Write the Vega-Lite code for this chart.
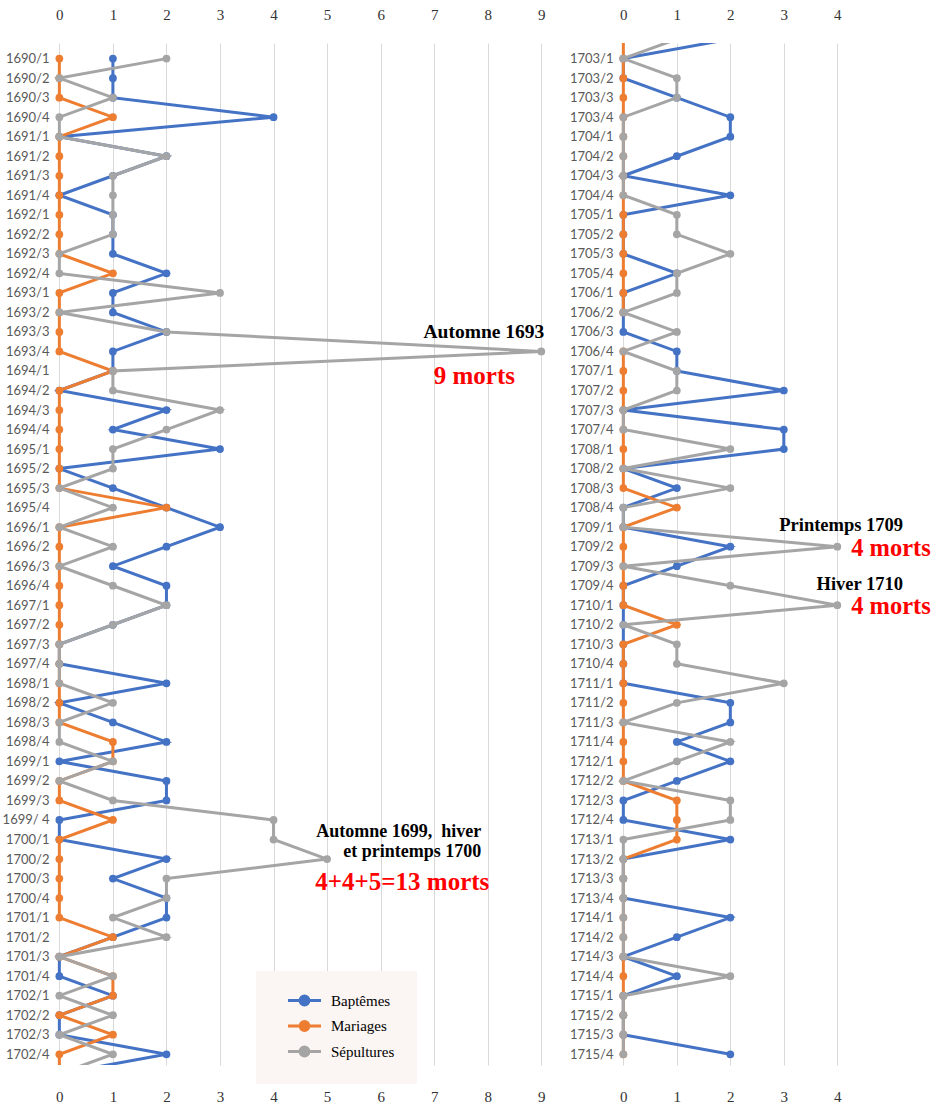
{
  "$schema": "https://vega.github.io/schema/vega-lite/v6.json",
  "background": "white",
  "padding": {"left": 2, "top": 7, "right": 3, "bottom": 5},
  "spacing": 17,
  "config": {
    "view": {"stroke": null},
    "axisX": {"grid": false, "ticks": false, "domain": false, "labelFont": "Liberation Serif", "labelFontSize": 15, "labelColor": "#333333", "title": null, "format": "d"},
    "axisY": {"grid": false, "ticks": false, "domain": false, "labelFont": "Lato", "labelFontSize": 13, "labelColor": "#595959", "title": null, "labelPadding": 5, "labelOverlap": false, "tickCount": 52, "tickMinStep": 1}
  },
  "datasets": {
    "L": [
      {"i":0,"q":"1690/1","Baptêmes":1,"Mariages":0,"Sépultures":2},
      {"i":1,"q":"1690/2","Baptêmes":1,"Mariages":0,"Sépultures":0},
      {"i":2,"q":"1690/3","Baptêmes":1,"Mariages":0,"Sépultures":1},
      {"i":3,"q":"1690/4","Baptêmes":4,"Mariages":1,"Sépultures":0},
      {"i":4,"q":"1691/1","Baptêmes":0,"Mariages":0,"Sépultures":0},
      {"i":5,"q":"1691/2","Baptêmes":2,"Mariages":0,"Sépultures":2},
      {"i":6,"q":"1691/3","Baptêmes":1,"Mariages":0,"Sépultures":1},
      {"i":7,"q":"1691/4","Baptêmes":0,"Mariages":0,"Sépultures":1},
      {"i":8,"q":"1692/1","Baptêmes":1,"Mariages":0,"Sépultures":1},
      {"i":9,"q":"1692/2","Baptêmes":1,"Mariages":0,"Sépultures":1},
      {"i":10,"q":"1692/3","Baptêmes":1,"Mariages":0,"Sépultures":0},
      {"i":11,"q":"1692/4","Baptêmes":2,"Mariages":1,"Sépultures":0},
      {"i":12,"q":"1693/1","Baptêmes":1,"Mariages":0,"Sépultures":3},
      {"i":13,"q":"1693/2","Baptêmes":1,"Mariages":0,"Sépultures":0},
      {"i":14,"q":"1693/3","Baptêmes":2,"Mariages":0,"Sépultures":2},
      {"i":15,"q":"1693/4","Baptêmes":1,"Mariages":0,"Sépultures":9},
      {"i":16,"q":"1694/1","Baptêmes":1,"Mariages":1,"Sépultures":1},
      {"i":17,"q":"1694/2","Baptêmes":0,"Mariages":0,"Sépultures":1},
      {"i":18,"q":"1694/3","Baptêmes":2,"Mariages":0,"Sépultures":3},
      {"i":19,"q":"1694/4","Baptêmes":1,"Mariages":0,"Sépultures":2},
      {"i":20,"q":"1695/1","Baptêmes":3,"Mariages":0,"Sépultures":1},
      {"i":21,"q":"1695/2","Baptêmes":0,"Mariages":0,"Sépultures":1},
      {"i":22,"q":"1695/3","Baptêmes":1,"Mariages":0,"Sépultures":0},
      {"i":23,"q":"1695/4","Baptêmes":2,"Mariages":2,"Sépultures":1},
      {"i":24,"q":"1696/1","Baptêmes":3,"Mariages":0,"Sépultures":0},
      {"i":25,"q":"1696/2","Baptêmes":2,"Mariages":0,"Sépultures":1},
      {"i":26,"q":"1696/3","Baptêmes":1,"Mariages":0,"Sépultures":0},
      {"i":27,"q":"1696/4","Baptêmes":2,"Mariages":0,"Sépultures":1},
      {"i":28,"q":"1697/1","Baptêmes":2,"Mariages":0,"Sépultures":2},
      {"i":29,"q":"1697/2","Baptêmes":1,"Mariages":0,"Sépultures":1},
      {"i":30,"q":"1697/3","Baptêmes":0,"Mariages":0,"Sépultures":0},
      {"i":31,"q":"1697/4","Baptêmes":0,"Mariages":0,"Sépultures":0},
      {"i":32,"q":"1698/1","Baptêmes":2,"Mariages":0,"Sépultures":0},
      {"i":33,"q":"1698/2","Baptêmes":0,"Mariages":0,"Sépultures":1},
      {"i":34,"q":"1698/3","Baptêmes":1,"Mariages":0,"Sépultures":0},
      {"i":35,"q":"1698/4","Baptêmes":2,"Mariages":1,"Sépultures":0},
      {"i":36,"q":"1699/1","Baptêmes":0,"Mariages":1,"Sépultures":1},
      {"i":37,"q":"1699/2","Baptêmes":2,"Mariages":0,"Sépultures":0},
      {"i":38,"q":"1699/3","Baptêmes":2,"Mariages":0,"Sépultures":1},
      {"i":39,"q":"1699/ 4","Baptêmes":0,"Mariages":1,"Sépultures":4},
      {"i":40,"q":"1700/1","Baptêmes":0,"Mariages":0,"Sépultures":4},
      {"i":41,"q":"1700/2","Baptêmes":2,"Mariages":0,"Sépultures":5},
      {"i":42,"q":"1700/3","Baptêmes":1,"Mariages":0,"Sépultures":2},
      {"i":43,"q":"1700/4","Baptêmes":2,"Mariages":0,"Sépultures":2},
      {"i":44,"q":"1701/1","Baptêmes":2,"Mariages":0,"Sépultures":1},
      {"i":45,"q":"1701/2","Baptêmes":1,"Mariages":1,"Sépultures":2},
      {"i":46,"q":"1701/3","Baptêmes":0,"Mariages":0,"Sépultures":0},
      {"i":47,"q":"1701/4","Baptêmes":0,"Mariages":1,"Sépultures":1},
      {"i":48,"q":"1702/1","Baptêmes":1,"Mariages":1,"Sépultures":0},
      {"i":49,"q":"1702/2","Baptêmes":0,"Mariages":0,"Sépultures":1},
      {"i":50,"q":"1702/3","Baptêmes":0,"Mariages":1,"Sépultures":0},
      {"i":51,"q":"1702/4","Baptêmes":2,"Mariages":0,"Sépultures":1},
      {"i":52,"q":"1703/1","Baptêmes":0,"Mariages":0,"Sépultures":0}
    ],
    "R": [
      {"i":-1,"q":"1702/4","Baptêmes":2,"Mariages":0,"Sépultures":1},
      {"i":0,"q":"1703/1","Baptêmes":0,"Mariages":0,"Sépultures":0},
      {"i":1,"q":"1703/2","Baptêmes":0,"Mariages":0,"Sépultures":1},
      {"i":2,"q":"1703/3","Baptêmes":1,"Mariages":0,"Sépultures":1},
      {"i":3,"q":"1703/4","Baptêmes":2,"Mariages":0,"Sépultures":0},
      {"i":4,"q":"1704/1","Baptêmes":2,"Mariages":0,"Sépultures":0},
      {"i":5,"q":"1704/2","Baptêmes":1,"Mariages":0,"Sépultures":0},
      {"i":6,"q":"1704/3","Baptêmes":0,"Mariages":0,"Sépultures":0},
      {"i":7,"q":"1704/4","Baptêmes":2,"Mariages":0,"Sépultures":0},
      {"i":8,"q":"1705/1","Baptêmes":0,"Mariages":0,"Sépultures":1},
      {"i":9,"q":"1705/2","Baptêmes":0,"Mariages":0,"Sépultures":1},
      {"i":10,"q":"1705/3","Baptêmes":0,"Mariages":0,"Sépultures":2},
      {"i":11,"q":"1705/4","Baptêmes":1,"Mariages":0,"Sépultures":1},
      {"i":12,"q":"1706/1","Baptêmes":0,"Mariages":0,"Sépultures":1},
      {"i":13,"q":"1706/2","Baptêmes":0,"Mariages":0,"Sépultures":0},
      {"i":14,"q":"1706/3","Baptêmes":0,"Mariages":null,"Sépultures":1},
      {"i":15,"q":"1706/4","Baptêmes":1,"Mariages":0,"Sépultures":0},
      {"i":16,"q":"1707/1","Baptêmes":1,"Mariages":0,"Sépultures":1},
      {"i":17,"q":"1707/2","Baptêmes":3,"Mariages":0,"Sépultures":1},
      {"i":18,"q":"1707/3","Baptêmes":0,"Mariages":0,"Sépultures":0},
      {"i":19,"q":"1707/4","Baptêmes":3,"Mariages":0,"Sépultures":0},
      {"i":20,"q":"1708/1","Baptêmes":3,"Mariages":0,"Sépultures":2},
      {"i":21,"q":"1708/2","Baptêmes":0,"Mariages":0,"Sépultures":0},
      {"i":22,"q":"1708/3","Baptêmes":1,"Mariages":0,"Sépultures":2},
      {"i":23,"q":"1708/4","Baptêmes":0,"Mariages":1,"Sépultures":0},
      {"i":24,"q":"1709/1","Baptêmes":0,"Mariages":0,"Sépultures":0},
      {"i":25,"q":"1709/2","Baptêmes":2,"Mariages":0,"Sépultures":4},
      {"i":26,"q":"1709/3","Baptêmes":1,"Mariages":0,"Sépultures":0},
      {"i":27,"q":"1709/4","Baptêmes":0,"Mariages":0,"Sépultures":2},
      {"i":28,"q":"1710/1","Baptêmes":0,"Mariages":0,"Sépultures":4},
      {"i":29,"q":"1710/2","Baptêmes":0,"Mariages":1,"Sépultures":0},
      {"i":30,"q":"1710/3","Baptêmes":0,"Mariages":0,"Sépultures":1},
      {"i":31,"q":"1710/4","Baptêmes":0,"Mariages":0,"Sépultures":1},
      {"i":32,"q":"1711/1","Baptêmes":0,"Mariages":0,"Sépultures":3},
      {"i":33,"q":"1711/2","Baptêmes":2,"Mariages":0,"Sépultures":1},
      {"i":34,"q":"1711/3","Baptêmes":2,"Mariages":0,"Sépultures":0},
      {"i":35,"q":"1711/4","Baptêmes":1,"Mariages":0,"Sépultures":2},
      {"i":36,"q":"1712/1","Baptêmes":2,"Mariages":0,"Sépultures":1},
      {"i":37,"q":"1712/2","Baptêmes":1,"Mariages":0,"Sépultures":0},
      {"i":38,"q":"1712/3","Baptêmes":0,"Mariages":1,"Sépultures":2},
      {"i":39,"q":"1712/4","Baptêmes":0,"Mariages":1,"Sépultures":2},
      {"i":40,"q":"1713/1","Baptêmes":2,"Mariages":1,"Sépultures":0},
      {"i":41,"q":"1713/2","Baptêmes":0,"Mariages":0,"Sépultures":0},
      {"i":42,"q":"1713/3","Baptêmes":0,"Mariages":0,"Sépultures":0},
      {"i":43,"q":"1713/4","Baptêmes":0,"Mariages":0,"Sépultures":0},
      {"i":44,"q":"1714/1","Baptêmes":2,"Mariages":0,"Sépultures":0},
      {"i":45,"q":"1714/2","Baptêmes":1,"Mariages":0,"Sépultures":0},
      {"i":46,"q":"1714/3","Baptêmes":0,"Mariages":0,"Sépultures":0},
      {"i":47,"q":"1714/4","Baptêmes":1,"Mariages":0,"Sépultures":2},
      {"i":48,"q":"1715/1","Baptêmes":0,"Mariages":0,"Sépultures":0},
      {"i":49,"q":"1715/2","Baptêmes":0,"Mariages":0,"Sépultures":0},
      {"i":50,"q":"1715/3","Baptêmes":0,"Mariages":0,"Sépultures":0},
      {"i":51,"q":"1715/4","Baptêmes":2,"Mariages":0,"Sépultures":0}
    ]
  },
  "hconcat": [
    {
      "width": 498,
      "height": 1022,
      "data": {"name": "L"},
      "transform": [{"fold": ["Baptêmes", "Mariages", "Sépultures"], "as": ["serie", "n"]}],
      "resolve": {"axis": {"x": "independent", "y": "shared"}},
      "layer": [
        {
          "transform": [{"filter": "datum.serie == 'Baptêmes'"}],
          "mark": {"type": "line", "clip": true, "strokeWidth": 3, "point": {"filled": true, "size": 60, "clip": true, "opacity": 1}},
          "encoding": {
            "x": {"field": "n", "type": "quantitative", "scale": {"domain": [-0.1, 9.2], "nice": false, "zero": false}, "axis": {"orient": "top", "grid": true, "gridColor": "#D9D9D9", "gridWidth": 1, "labelPadding": 21, "values": [0,1,2,3,4,5,6,7,8,9]}},
            "y": {"field": "i", "type": "quantitative", "scale": {"domain": [-0.8, 51.55], "reverse": true, "nice": false, "zero": false}, "axis": {"labelOverlap": false, "tickCount": 52, "tickMinStep": 1, "labelExpr": "datum.value == 39 ? '1699/ 4' : (1690 + floor(datum.value / 4)) + '/' + (datum.value % 4 + 1)"}},
            "order": {"field": "i", "type": "quantitative"},
            "color": {"field": "serie", "type": "nominal", "scale": {"domain": ["Baptêmes", "Mariages", "Sépultures"], "range": ["#4472C4", "#ED7D31", "#A5A5A5"]},
              "legend": {"orient": "none", "legendX": 202, "legendY": 928, "direction": "vertical", "title": null,
                "labelFont": "Liberation Serif", "labelFontSize": 15, "labelColor": "#000000", "fillColor": "#FBF5F3", "padding": 22, "symbolType": "M-3,0H3M0.8,0A0.8,0.8,0,1,1,-0.8,0A0.8,0.8,0,1,1,0.8,0Z", "symbolSize": 121, "symbolStrokeWidth": 3, "symbolOffset": 19, "labelOffset": 19, "rowPadding": 4.5,
                "encode": {"symbols": {"update": {"fill": {"scale": "color", "field": "value"}, "stroke": {"scale": "color", "field": "value"}, "opacity": {"value": 1}}}}
              }
            }
          }
        },
        {
          "transform": [{"filter": "datum.serie == 'Mariages'"}],
          "mark": {"type": "line", "clip": true, "strokeWidth": 3, "point": {"filled": true, "size": 60, "clip": true, "opacity": 1}},
          "encoding": {
            "x": {"field": "n", "type": "quantitative", "scale": {"domain": [-0.1, 9.2], "nice": false, "zero": false}, "axis": {"orient": "bottom", "grid": false, "labelPadding": 24, "values": [0,1,2,3,4,5,6,7,8,9]}},
            "y": {"field": "i", "type": "quantitative", "axis": {"labelOverlap": false, "tickCount": 52, "tickMinStep": 1}},
            "order": {"field": "i", "type": "quantitative"},
            "color": {"field": "serie", "type": "nominal", "legend": null}
          }
        },
        {
          "transform": [{"filter": "datum.serie == 'Sépultures'"}],
          "mark": {"type": "line", "clip": true, "strokeWidth": 3, "point": {"filled": true, "size": 60, "clip": true, "opacity": 1}},
          "encoding": {
            "x": {"field": "n", "type": "quantitative", "axis": null},
            "y": {"field": "i", "type": "quantitative", "axis": {"labelOverlap": false, "tickCount": 52, "tickMinStep": 1}},
            "order": {"field": "i", "type": "quantitative"},
            "color": {"field": "serie", "type": "nominal", "legend": null}
          }
        },
        {
          "data": {"values": [{}]},
          "mark": {"type": "text", "text": "Automne 1693", "align": "right", "baseline": "middle", "dx": 3, "font": "Liberation Serif", "fontSize": 19.5, "fontWeight": "bold", "color": "#000000"},
          "encoding": {"x": {"datum": 9, "type": "quantitative", "axis": null}, "y": {"datum": 14, "type": "quantitative", "axis": {"labelOverlap": false, "tickCount": 52, "tickMinStep": 1}}}
        },
        {
          "data": {"values": [{}]},
          "mark": {"type": "text", "text": "9 morts", "align": "center", "baseline": "middle", "font": "Liberation Serif", "fontSize": 25, "fontWeight": "bold", "color": "#FF0000"},
          "encoding": {"x": {"datum": 7.75, "type": "quantitative", "axis": null}, "y": {"datum": 16.28, "type": "quantitative", "axis": {"labelOverlap": false, "tickCount": 52, "tickMinStep": 1}}}
        },
        {
          "data": {"values": [{}]},
          "mark": {"type": "text", "text": "Automne 1699,\u00a0 hiver", "align": "right", "baseline": "middle", "font": "Liberation Serif", "fontSize": 18, "fontWeight": "bold", "color": "#000000"},
          "encoding": {"x": {"datum": 7.88, "type": "quantitative", "axis": null}, "y": {"datum": 39.63, "type": "quantitative", "axis": {"labelOverlap": false, "tickCount": 52, "tickMinStep": 1}}}
        },
        {
          "data": {"values": [{}]},
          "mark": {"type": "text", "text": "et printemps 1700", "align": "right", "baseline": "middle", "font": "Liberation Serif", "fontSize": 18, "fontWeight": "bold", "color": "#000000"},
          "encoding": {"x": {"datum": 7.88, "type": "quantitative", "axis": null}, "y": {"datum": 40.66, "type": "quantitative", "axis": {"labelOverlap": false, "tickCount": 52, "tickMinStep": 1}}}
        },
        {
          "data": {"values": [{}]},
          "mark": {"type": "text", "text": "4+4+5=13 morts", "align": "left", "baseline": "middle", "font": "Liberation Serif", "fontSize": 25, "fontWeight": "bold", "color": "#FF0000"},
          "encoding": {"x": {"datum": 4.78, "type": "quantitative", "axis": null}, "y": {"datum": 42.19, "type": "quantitative", "axis": {"labelOverlap": false, "tickCount": 52, "tickMinStep": 1}}}
        }
      ]
    },
    {
      "width": 230,
      "height": 1022,
      "data": {"name": "R"},
      "transform": [{"fold": ["Baptêmes", "Mariages", "Sépultures"], "as": ["serie", "n"]}],
      "resolve": {"axis": {"x": "independent", "y": "shared"}},
      "layer": [
        {
          "transform": [{"filter": "datum.serie == 'Baptêmes'"}],
          "mark": {"type": "line", "clip": true, "strokeWidth": 3, "point": {"filled": true, "size": 60, "clip": true, "opacity": 1}},
          "encoding": {
            "x": {"field": "n", "type": "quantitative", "scale": {"domain": [-0.1, 4.2], "nice": false, "zero": false}, "axis": {"orient": "top", "grid": true, "gridColor": "#D9D9D9", "gridWidth": 1, "labelPadding": 21, "values": [0,1,2,3,4]}},
            "y": {"field": "i", "type": "quantitative", "scale": {"domain": [-0.8, 51.55], "reverse": true, "nice": false, "zero": false}, "axis": {"labelOverlap": false, "tickCount": 52, "tickMinStep": 1, "labelExpr": "(1703 + floor(datum.value / 4)) + '/' + (datum.value % 4 + 1)"}},
            "order": {"field": "i", "type": "quantitative"},
            "color": {"field": "serie", "type": "nominal", "legend": null}
          }
        },
        {
          "transform": [{"filter": "datum.serie == 'Mariages'"}],
          "mark": {"type": "line", "clip": true, "strokeWidth": 3, "point": {"filled": true, "size": 60, "clip": true, "opacity": 1}},
          "encoding": {
            "x": {"field": "n", "type": "quantitative", "scale": {"domain": [-0.1, 4.2], "nice": false, "zero": false}, "axis": {"orient": "bottom", "grid": false, "labelPadding": 24, "values": [0,1,2,3,4]}},
            "y": {"field": "i", "type": "quantitative", "axis": {"labelOverlap": false, "tickCount": 52, "tickMinStep": 1}},
            "order": {"field": "i", "type": "quantitative"},
            "color": {"field": "serie", "type": "nominal", "legend": null}
          }
        },
        {
          "transform": [{"filter": "datum.serie == 'Sépultures'"}],
          "mark": {"type": "line", "clip": true, "strokeWidth": 3, "point": {"filled": true, "size": 60, "clip": true, "opacity": 1}},
          "encoding": {
            "x": {"field": "n", "type": "quantitative", "axis": null},
            "y": {"field": "i", "type": "quantitative", "axis": {"labelOverlap": false, "tickCount": 52, "tickMinStep": 1}},
            "order": {"field": "i", "type": "quantitative"},
            "color": {"field": "serie", "type": "nominal", "legend": null}
          }
        },
        {
          "data": {"values": [{}]},
          "mark": {"type": "text", "text": "Printemps 1709", "align": "right", "baseline": "middle", "font": "Liberation Serif", "fontSize": 18.5, "fontWeight": "bold", "color": "#000000"},
          "encoding": {"x": {"datum": 5.23, "type": "quantitative", "axis": null}, "y": {"datum": 23.9, "type": "quantitative", "axis": {"labelOverlap": false, "tickCount": 52, "tickMinStep": 1}}}
        },
        {
          "data": {"values": [{}]},
          "mark": {"type": "text", "text": "4 morts", "align": "left", "baseline": "middle", "font": "Liberation Serif", "fontSize": 24.5, "fontWeight": "bold", "color": "#FF0000"},
          "encoding": {"x": {"datum": 4.26, "type": "quantitative", "axis": null}, "y": {"datum": 25.1, "type": "quantitative", "axis": {"labelOverlap": false, "tickCount": 52, "tickMinStep": 1}}}
        },
        {
          "data": {"values": [{}]},
          "mark": {"type": "text", "text": "Hiver 1710", "align": "right", "baseline": "middle", "font": "Liberation Serif", "fontSize": 18.5, "fontWeight": "bold", "color": "#000000"},
          "encoding": {"x": {"datum": 5.23, "type": "quantitative", "axis": null}, "y": {"datum": 26.9, "type": "quantitative", "axis": {"labelOverlap": false, "tickCount": 52, "tickMinStep": 1}}}
        },
        {
          "data": {"values": [{}]},
          "mark": {"type": "text", "text": "4 morts", "align": "left", "baseline": "middle", "font": "Liberation Serif", "fontSize": 24.5, "fontWeight": "bold", "color": "#FF0000"},
          "encoding": {"x": {"datum": 4.26, "type": "quantitative", "axis": null}, "y": {"datum": 28.1, "type": "quantitative", "axis": {"labelOverlap": false, "tickCount": 52, "tickMinStep": 1}}}
        }
      ]
    }
  ]
}
